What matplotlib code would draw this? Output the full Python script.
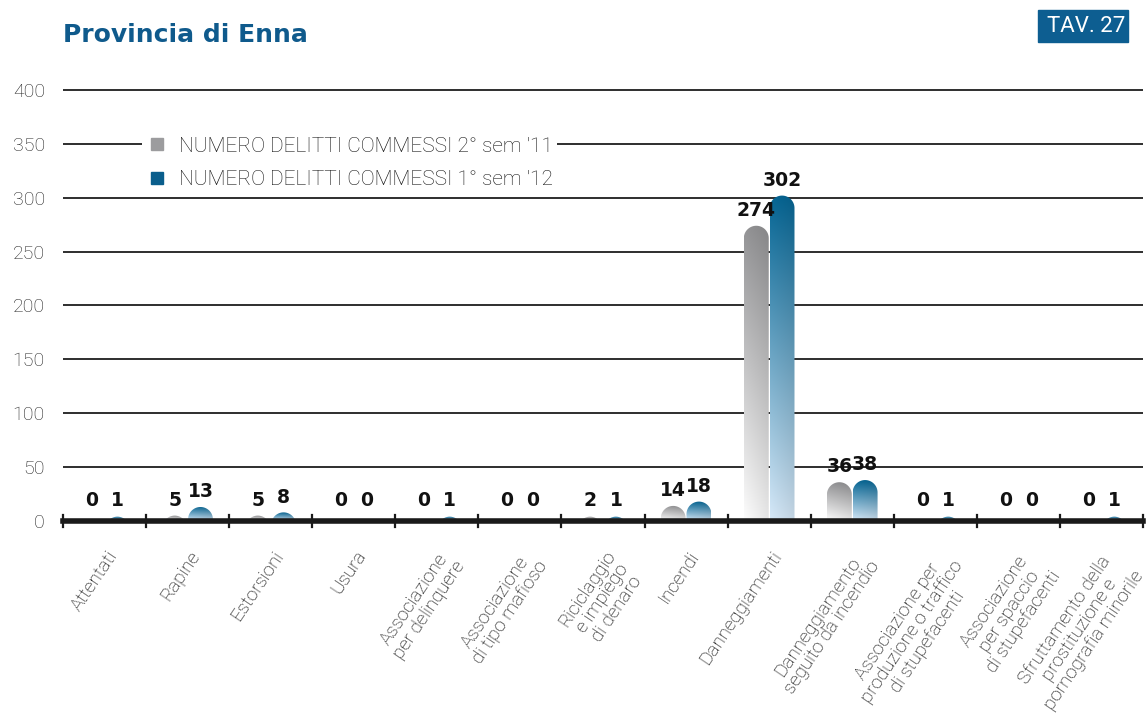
import numpy as np
import matplotlib
matplotlib.use("Agg")
import matplotlib.pyplot as plt
from matplotlib.path import Path
from matplotlib.patches import PathPatch, Rectangle
from matplotlib.lines import Line2D
from matplotlib.colors import to_rgb

# ---------------- data ----------------
categories = [
    "Attentati", "Rapine", "Estorsioni", "Usura",
    "Associazione\nper delinquere", "Associazione\ndi tipo mafioso",
    "Riciclaggio\ne impiego\ndi denaro", "Incendi", "Danneggiamenti",
    "Danneggiamento\nseguito da incendio",
    "Associazione per\nproduzione o traffico\ndi stupefacenti",
    "Associazione\nper spaccio\ndi stupefacenti",
    "Sfruttamento della\nprostituzione e\npornografia minorile",
]
sem2_11 = [0, 5, 5, 0, 0, 0, 2, 14, 274, 36, 0, 0, 0]
sem1_12 = [1, 13, 8, 0, 1, 0, 1, 18, 302, 38, 1, 0, 1]
series_names = ["NUMERO DELITTI COMMESSI 2° sem '11",
                "NUMERO DELITTI COMMESSI 1° sem '12"]
y_ticks = [0, 50, 100, 150, 200, 250, 300, 350, 400]

grey_top, grey_bot = "#8e8e90", "#f4f4f4"
blue_top, blue_bot = "#05628f", "#cfe1f0"
title_blue = "#0f5a8c"

# ---------------- figure ----------------
W, H = 1147, 721
fig = plt.figure(figsize=(W / 100, H / 100), dpi=100)
ax_l, ax_r, ax_b, ax_t = 63, 1143, 521, 84.6
ax = fig.add_axes([ax_l / W, 1 - ax_b / H, (ax_r - ax_l) / W, (ax_b - ax_t) / H])
n = len(categories)
ax.set_xlim(-0.5, n - 0.5)
ax.set_ylim(0, 405)

light = dict(family="Roboto", fontweight="light")

# grid lines
ax.set_yticks(y_ticks)
ax.set_yticklabels([str(t) for t in y_ticks], fontsize=14, color="#222222", **light)
ax.tick_params(axis="y", length=0, pad=13)
ax.grid(axis="y", color="#1e1e1e", lw=1.3)
ax.set_axisbelow(True)
for s in ax.spines.values():
    s.set_visible(False)

# pixel scale for rounded tops
px_x = (ax_r - ax_l) / n
px_y = (ax_b - ax_t) / 405
bw = 0.30
ry = (bw / 2) * px_x / px_y


def gradient_bar(xc, h, ctop, cbot):
    if h <= 0:
        return
    h = max(h, 4)  # keep tiny values visible above the thick baseline
    x0 = xc - bw / 2
    yc = h - ry
    t = np.linspace(np.pi, 0, 40)
    arc = np.column_stack([xc + bw / 2 * np.cos(t), yc + ry * np.sin(t)])
    bottom = min(0, yc) - 1
    verts = np.vstack([[x0, bottom], arc, [x0 + bw, bottom], [x0, bottom]])
    codes = [Path.MOVETO] + [Path.LINETO] * (len(verts) - 2) + [Path.CLOSEPOLY]
    patch = PathPatch(Path(verts, codes), facecolor="none", edgecolor="none")
    ax.add_patch(patch)
    top_c, bot_c = np.array(to_rgb(ctop)), np.array(to_rgb(cbot))
    f = np.linspace(0, 1, 128)[:, None]
    grad = top_c * (1 - f) + bot_c * f
    shade = 1 + 0.06 * np.linspace(0.6, -1, 32)
    img = np.clip(grad[:, None, :] * shade[None, :, None], 0, 1)
    im = ax.imshow(img, extent=[x0, x0 + bw, 0, h], aspect="auto",
                   origin="upper", zorder=3, interpolation="bilinear")
    im.set_clip_path(patch)


xs = np.arange(n)
off = 0.155
for i in range(n):
    gradient_bar(xs[i] - off, sem2_11[i], grey_top, grey_bot)
    gradient_bar(xs[i] + off, sem1_12[i], blue_top, blue_bot)
    for xv, v in ((xs[i] - off, sem2_11[i]), (xs[i] + off, sem1_12[i])):
        ax.annotate(str(v), (xv, max(v, 5)), xytext=(0, 11), textcoords="offset points",
                    ha="center", va="center", fontsize=13.5, fontweight="heavy",
                    family="DejaVu Sans", color="#111111", zorder=6)

ax.set_xlim(-0.5, n - 0.5)
ax.set_ylim(0, 405)

# baseline and category separators
ax.axhline(0, color="#1a1a1a", lw=4, clip_on=False, zorder=5)
for b in np.arange(-0.5, n, 1.0):
    ax.plot([b, b], [-6, 6], color="#1a1a1a", lw=1.6, clip_on=False, zorder=5)

# category labels
ax.set_xticks([])
for i, lab in enumerate(categories):
    ax.annotate(lab, (xs[i], 0), xytext=(1, -19), textcoords="offset points",
                ha="right", va="top", rotation=56, rotation_mode="anchor",
                multialignment="center", fontsize=13.5, color="#000000",
                linespacing=1.0, **light)

# legend
handles = [Line2D([], [], marker="s", ls="", color="#9c9c9e", markersize=9),
           Line2D([], [], marker="s", ls="", color="#0a5e8c", markersize=9)]
leg = ax.legend(handles, series_names, loc="upper left",
                bbox_to_anchor=(132 / W, 1 - 122 / H), bbox_transform=fig.transFigure,
                frameon=True, facecolor="white", edgecolor="none", framealpha=1,
                handletextpad=0.55, labelspacing=0.7, borderpad=0.2,
                handlelength=1.0, prop=dict(family="Roboto", weight="light", size=15))
for t in leg.get_texts():
    t.set_color("#111111")

# title and table tag
fig.text(63 / W, 1 - 35 / H, "Provincia di Enna", fontsize=18, fontweight="heavy",
         color=title_blue, va="center", ha="left", family="DejaVu Sans")
fig.patches.append(Rectangle((1038 / W, 1 - 42 / H), 90 / W, 32 / H,
                             transform=fig.transFigure, color="#0d5e91"))
fig.text(1086 / W, 1 - 26 / H, "TAV. 27", fontsize=16, color="white",
         ha="center", va="center", family="Roboto")

fig.savefig("out.png", dpi=100)
